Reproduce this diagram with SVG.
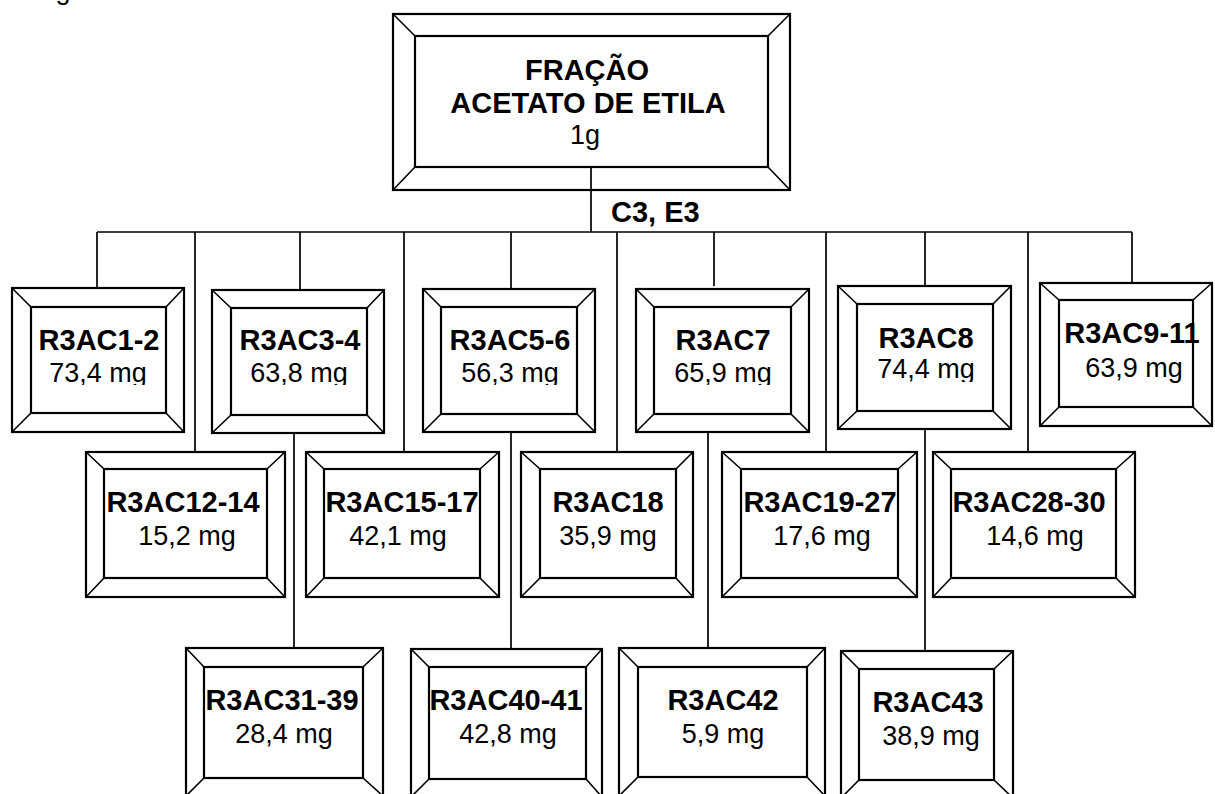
<svg xmlns="http://www.w3.org/2000/svg" width="1215" height="794" viewBox="0 0 1215 794">
<style>
.o{fill:#fff;stroke:#000;stroke-width:2.2}
.i{fill:none;stroke:#000;stroke-width:2.2}
.d{stroke:#000;stroke-width:1.6}
.c{fill:none;stroke:#000;stroke-width:1.7}
.b{font-family:"Liberation Sans",Arial,sans-serif;font-weight:bold;font-size:29px;text-anchor:middle;fill:#000}
.r{font-family:"Liberation Sans",Arial,sans-serif;font-size:27px;text-anchor:middle;fill:#000}
</style>
<defs>
<clipPath id="cl1"><rect x="0" y="0" width="1215" height="385"/></clipPath>
<clipPath id="cl2"><rect x="0" y="0" width="1215" height="382"/></clipPath>
</defs>
<text x="63" y="-1" class="r">g</text>
<g id="top">
<rect class="o" x="393" y="14" width="397" height="176"/>
<rect class="i" x="415" y="36" width="353" height="131"/>
<path class="d" d="M393 14L415 36M790 14L768 36M393 190L415 167M790 190L768 167"/>
<text class="b" x="587" y="80">FRAÇÃO</text>
<text class="b" x="588" y="113">ACETATO DE ETILA</text>
<text class="r" x="585" y="144">1g</text>
</g>
<g id="n1">
<rect class="o" x="12" y="288" width="172" height="144"/>
<rect class="i" x="31" y="307" width="135" height="106"/>
<path class="d" d="M12 288L31 307M184 288L166 307M12 432L31 413M184 432L166 413"/>
<text class="b" x="99" y="350">R3AC1-2</text>
<text class="r" x="98" y="382" clip-path="url(#cl1)">73,4 mg</text>
</g>
<g id="n2">
<rect class="o" x="212" y="290" width="172" height="143"/>
<rect class="i" x="231" y="308" width="136" height="107"/>
<path class="d" d="M212 290L231 308M384 290L367 308M212 433L231 415M384 433L367 415"/>
<text class="b" x="300" y="350">R3AC3-4</text>
<text class="r" x="299" y="382" clip-path="url(#cl1)">63,8 mg</text>
</g>
<g id="n3">
<rect class="o" x="423" y="289" width="172" height="143"/>
<rect class="i" x="441" y="307" width="136" height="107"/>
<path class="d" d="M423 289L441 307M595 289L577 307M423 432L441 414M595 432L577 414"/>
<text class="b" x="510" y="350">R3AC5-6</text>
<text class="r" x="510" y="382" clip-path="url(#cl1)">56,3 mg</text>
</g>
<g id="n4">
<rect class="o" x="636" y="289" width="173" height="143"/>
<rect class="i" x="654" y="307" width="137" height="107"/>
<path class="d" d="M636 289L654 307M809 289L791 307M636 432L654 414M809 432L791 414"/>
<text class="b" x="723" y="350">R3AC7</text>
<text class="r" x="723" y="382" clip-path="url(#cl1)">65,9 mg</text>
</g>
<g id="n5">
<rect class="o" x="838" y="286" width="173" height="143"/>
<rect class="i" x="857" y="304" width="136" height="107"/>
<path class="d" d="M838 286L857 304M1011 286L993 304M838 429L857 411M1011 429L993 411"/>
<text class="b" x="926" y="348">R3AC8</text>
<text class="r" x="926" y="378" clip-path="url(#cl2)">74,4 mg</text>
</g>
<g id="n6">
<rect class="o" x="1040" y="283" width="172" height="143"/>
<rect class="i" x="1059" y="300" width="134" height="107"/>
<path class="d" d="M1040 283L1059 300M1212 283L1193 300M1040 426L1059 407M1212 426L1193 407"/>
<text class="b" x="1132" y="343">R3AC9-11</text>
<text class="r" x="1134" y="377">63,9 mg</text>
</g>
<g id="n7">
<rect class="o" x="86" y="452" width="199" height="145"/>
<rect class="i" x="104" y="469" width="163" height="109"/>
<path class="d" d="M86 452L104 469M285 452L267 469M86 597L104 578M285 597L267 578"/>
<text class="b" x="183" y="512">R3AC12-14</text>
<text class="r" x="187" y="545">15,2 mg</text>
</g>
<g id="n8">
<rect class="o" x="306" y="452" width="193" height="145"/>
<rect class="i" x="324" y="469" width="156" height="109"/>
<path class="d" d="M306 452L324 469M499 452L480 469M306 597L324 578M499 597L480 578"/>
<text class="b" x="402" y="512">R3AC15-17</text>
<text class="r" x="398" y="545">42,1 mg</text>
</g>
<g id="n9">
<rect class="o" x="521" y="452" width="172" height="145"/>
<rect class="i" x="540" y="469" width="136" height="109"/>
<path class="d" d="M521 452L540 469M693 452L676 469M521 597L540 578M693 597L676 578"/>
<text class="b" x="608" y="512">R3AC18</text>
<text class="r" x="608" y="545">35,9 mg</text>
</g>
<g id="n10">
<rect class="o" x="722" y="452" width="195" height="145"/>
<rect class="i" x="741" y="469" width="157" height="109"/>
<path class="d" d="M722 452L741 469M917 452L898 469M722 597L741 578M917 597L898 578"/>
<text class="b" x="820" y="512">R3AC19-27</text>
<text class="r" x="822" y="545">17,6 mg</text>
</g>
<g id="n11">
<rect class="o" x="933" y="452" width="202" height="145"/>
<rect class="i" x="951" y="469" width="165" height="109"/>
<path class="d" d="M933 452L951 469M1135 452L1116 469M933 597L951 578M1135 597L1116 578"/>
<text class="b" x="1029" y="512">R3AC28-30</text>
<text class="r" x="1035" y="545">14,6 mg</text>
</g>
<g id="n12">
<rect class="o" x="186" y="648" width="197" height="148"/>
<rect class="i" x="204" y="667" width="159" height="111"/>
<path class="d" d="M186 648L204 667M383 648L363 667M186 796L204 778M383 796L363 778"/>
<text class="b" x="282" y="710">R3AC31-39</text>
<text class="r" x="284" y="743">28,4 mg</text>
</g>
<g id="n13">
<rect class="o" x="411" y="649" width="191" height="148"/>
<rect class="i" x="429" y="667" width="157" height="112"/>
<path class="d" d="M411 649L429 667M602 649L586 667M411 797L429 779M602 797L586 779"/>
<text class="b" x="506" y="710">R3AC40-41</text>
<text class="r" x="508" y="743">42,8 mg</text>
</g>
<g id="n14">
<rect class="o" x="619" y="648" width="206" height="148"/>
<rect class="i" x="638" y="667" width="169" height="110"/>
<path class="d" d="M619 648L638 667M825 648L807 667M619 796L638 777M825 796L807 777"/>
<text class="b" x="723" y="710">R3AC42</text>
<text class="r" x="723" y="743">5,9 mg</text>
</g>
<g id="n15">
<rect class="o" x="841" y="651" width="172" height="147"/>
<rect class="i" x="859" y="669" width="135" height="111"/>
<path class="d" d="M841 651L859 669M1013 651L994 669M841 798L859 780M1013 798L994 780"/>
<text class="b" x="928" y="712">R3AC43</text>
<text class="r" x="931" y="745">38,9 mg</text>
</g>
<g id="connectors">
<path class="c" d="M591 167V232M97 232H1132M97 232V288M300 232V290M511 232V289M714 232V286M925 232V286M1132 232V283"/>
<path class="c" d="M195 232V452M404 232V452M617 232V452M826 232V452M1028 232V452"/>
<path class="c" d="M294 433V648M511 432V649M708 432V648M925 429V651"/>
</g>
<text x="611" y="222" style="font-family:'Liberation Sans',Arial,sans-serif;font-weight:bold;font-size:29px">C3, E3</text>
</svg>
